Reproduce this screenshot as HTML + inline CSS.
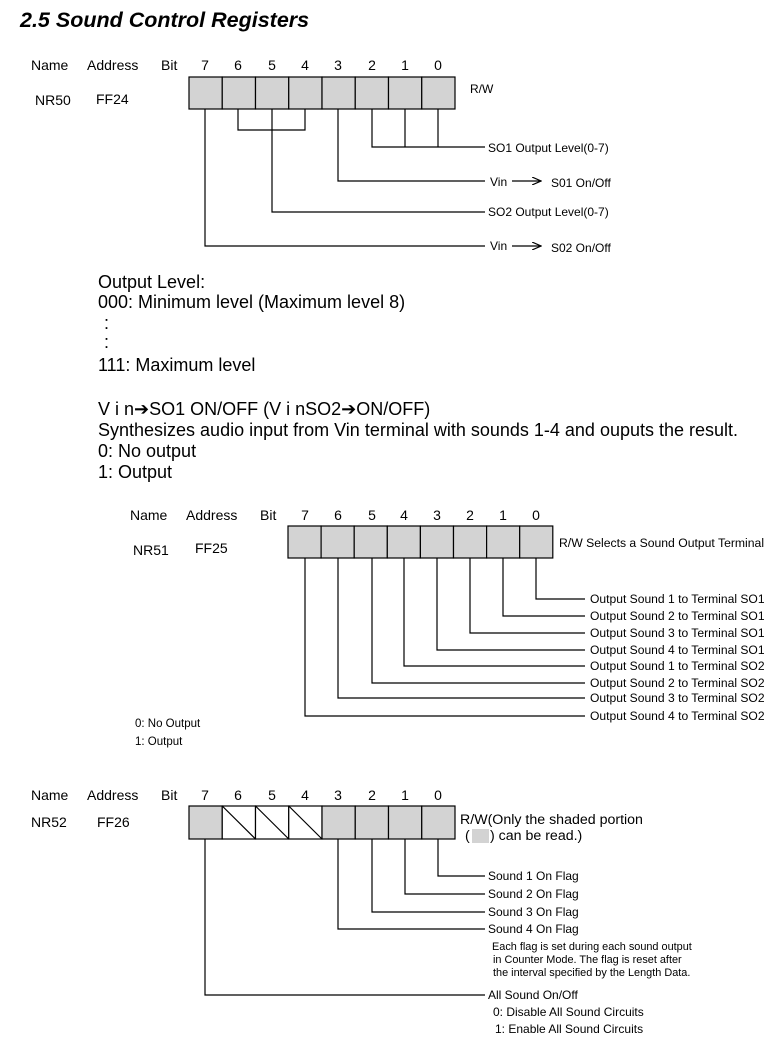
<!DOCTYPE html>
<html><head><meta charset="utf-8"><style>
html,body{margin:0;padding:0;background:#fff;}
svg{display:block;font-family:"Liberation Sans",sans-serif;}
</style></head><body>
<svg width="781" height="1044" viewBox="0 0 781 1044" xmlns="http://www.w3.org/2000/svg">
<defs>
<marker id="ar" markerWidth="10" markerHeight="8" refX="9" refY="4" orient="auto" markerUnits="userSpaceOnUse"><path d="M0,0 L9,4 L0,8" fill="none" stroke="#000" stroke-width="1.2"/></marker>
</defs>
<text x="20" y="27" font-size="21.5" font-weight="bold" font-style="italic">2.5 Sound Control Registers</text>

<!-- NR50 -->
<g font-size="14">
<text x="31" y="70">Name</text><text x="87" y="70">Address</text><text x="161" y="70">Bit</text>
<g text-anchor="middle"><text x="205" y="70">7</text><text x="238" y="70">6</text><text x="272" y="70">5</text><text x="305" y="70">4</text><text x="338" y="70">3</text><text x="372" y="70">2</text><text x="405" y="70">1</text><text x="438" y="70">0</text></g>
<text x="35" y="105">NR50</text><text x="96" y="104">FF24</text>
</g>
<g fill="#d3d3d3" stroke="#000" stroke-width="1.2">
<rect x="189" y="77" width="33.25" height="32"/><rect x="222.25" y="77" width="33.25" height="32"/><rect x="255.5" y="77" width="33.25" height="32"/><rect x="288.75" y="77" width="33.25" height="32"/><rect x="322" y="77" width="33.25" height="32"/><rect x="355.25" y="77" width="33.25" height="32"/><rect x="388.5" y="77" width="33.25" height="32"/><rect x="421.75" y="77" width="33.25" height="32"/>
</g>
<text x="470" y="93" font-size="12">R/W</text>
<g stroke="#000" stroke-width="1.2" fill="none">
<path d="M238,109V130H305V109M272,109V212H485"/>
<path d="M372,109V147H485M405,109V147M438,109V147"/>
<path d="M338,109V181H485"/>
<path d="M205,109V246H485"/>
<path d="M512,181H541" marker-end="url(#ar)"/><path d="M512,246H541" marker-end="url(#ar)"/>
</g>
<g font-size="12">
<text x="488" y="152">SO1 Output Level(0-7)</text>
<text x="490" y="186">Vin</text><text x="551" y="187">S01 On/Off</text>
<text x="488" y="216">SO2 Output Level(0-7)</text>
<text x="490" y="250">Vin</text><text x="551" y="252">S02 On/Off</text>
</g>

<g font-size="18">
<text x="98" y="288">Output Level:</text>
<text x="98" y="308">000: Minimum level (Maximum level 8)</text>
<text x="104" y="329">:</text><text x="104" y="348">:</text>
<text x="98" y="371">111: Maximum level</text>
<text x="98" y="415">V i n➔SO1 ON/OFF (V i nSO2➔ON/OFF)</text>
<text x="98" y="436">Synthesizes audio input from Vin terminal with sounds 1-4 and ouputs the result.</text>
<text x="98" y="457">0: No output</text>
<text x="98" y="478">1: Output</text>
</g>

<!-- NR51 -->
<g font-size="14">
<text x="130" y="520">Name</text><text x="186" y="520">Address</text><text x="260" y="520">Bit</text>
<g text-anchor="middle"><text x="305" y="520">7</text><text x="338" y="520">6</text><text x="372" y="520">5</text><text x="404" y="520">4</text><text x="437" y="520">3</text><text x="470" y="520">2</text><text x="503" y="520">1</text><text x="536" y="520">0</text></g>
<text x="133" y="555">NR51</text><text x="195" y="553">FF25</text>
</g>
<g fill="#d3d3d3" stroke="#000" stroke-width="1.2">
<rect x="288" y="526" width="33.1" height="32"/><rect x="321.1" y="526" width="33.1" height="32"/><rect x="354.2" y="526" width="33.1" height="32"/><rect x="387.3" y="526" width="33.1" height="32"/><rect x="420.4" y="526" width="33.1" height="32"/><rect x="453.5" y="526" width="33.1" height="32"/><rect x="486.6" y="526" width="33.1" height="32"/><rect x="519.7" y="526" width="33.1" height="32"/>
</g>
<text x="559" y="547" font-size="12.2">R/W Selects a Sound Output Terminal</text>
<g stroke="#000" stroke-width="1.2" fill="none">
<path d="M536,558V599H585M503,558V616H585M470,558V633H585M437,558V650H585M404,558V666H585M372,558V683H585M338,558V698H585M305,558V716H585"/>
</g>
<g font-size="12.1">
<text x="590" y="603">Output Sound 1 to Terminal SO1</text>
<text x="590" y="620">Output Sound 2 to Terminal SO1</text>
<text x="590" y="637">Output Sound 3 to Terminal SO1</text>
<text x="590" y="654">Output Sound 4 to Terminal SO1</text>
<text x="590" y="670">Output Sound 1 to Terminal SO2</text>
<text x="590" y="687">Output Sound 2 to Terminal SO2</text>
<text x="590" y="702">Output Sound 3 to Terminal SO2</text>
<text x="590" y="720">Output Sound 4 to Terminal SO2</text>
<text x="135" y="727" font-size="11.5">0: No Output</text>
<text x="135" y="745" font-size="11.5">1: Output</text>
</g>

<!-- NR52 -->
<g font-size="14">
<text x="31" y="800">Name</text><text x="87" y="800">Address</text><text x="161" y="800">Bit</text>
<g text-anchor="middle"><text x="205" y="800">7</text><text x="238" y="800">6</text><text x="272" y="800">5</text><text x="305" y="800">4</text><text x="338" y="800">3</text><text x="372" y="800">2</text><text x="405" y="800">1</text><text x="438" y="800">0</text></g>
<text x="31" y="827">NR52</text><text x="97" y="827">FF26</text>
</g>
<g stroke="#000" stroke-width="1.2">
<rect x="189" y="806" width="33.25" height="33" fill="#d3d3d3"/>
<rect x="222.25" y="806" width="33.25" height="33" fill="#fff"/>
<rect x="255.5" y="806" width="33.25" height="33" fill="#fff"/>
<rect x="288.75" y="806" width="33.25" height="33" fill="#fff"/>
<rect x="322" y="806" width="33.25" height="33" fill="#d3d3d3"/>
<rect x="355.25" y="806" width="33.25" height="33" fill="#d3d3d3"/>
<rect x="388.5" y="806" width="33.25" height="33" fill="#d3d3d3"/>
<rect x="421.75" y="806" width="33.25" height="33" fill="#d3d3d3"/>
<path d="M222.25,806L255.5,839M255.5,806L288.75,839M288.75,806L322,839" fill="none"/>
</g>
<text x="460" y="824" font-size="14.2">R/W(Only the shaded portion</text>
<text x="465" y="840" font-size="14.2">(</text><rect x="472" y="829" width="17" height="14" fill="#d3d3d3"/><text x="490" y="840" font-size="14.2">) can be read.)</text>
<g stroke="#000" stroke-width="1.2" fill="none">
<path d="M438,839V876H485M405,839V894H485M372,839V912H485M338,839V929H485M205,839V995H485"/>
</g>
<g font-size="12">
<text x="488" y="880">Sound 1 On Flag</text>
<text x="488" y="898">Sound 2 On Flag</text>
<text x="488" y="916">Sound 3 On Flag</text>
<text x="488" y="933">Sound 4 On Flag</text>
<text x="488" y="999">All Sound On/Off</text>
<text x="493" y="1016">0: Disable All Sound Circuits</text>
<text x="495" y="1033">1: Enable All Sound Circuits</text>
</g>
<g font-size="10.9">
<text x="492" y="950">Each flag is set during each sound output</text>
<text x="493" y="963">in Counter Mode.  The flag is reset after</text>
<text x="493" y="976">the interval specified by the Length Data.</text>
</g>
</svg>
</body></html>
